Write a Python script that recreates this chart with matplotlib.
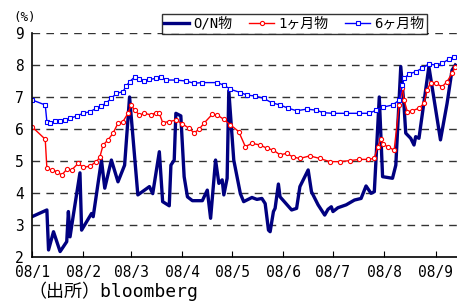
import matplotlib
import matplotlib.pyplot as plt

matplotlib.use('Agg')

# x = days since 2008-01-01
on_days = [0, 9, 10, 13, 17, 21, 22, 23, 25, 29, 30, 36, 37, 42, 44, 48, 52, 56, 59,
           64, 71, 73, 77, 79, 83, 84, 86, 87, 90, 92, 94, 97, 103, 106, 108, 111, 113,
           115, 116, 118, 119, 122, 126, 128, 133, 136, 139, 141, 143, 144, 146, 147,
           149, 150, 157, 160, 162, 167, 169, 173, 177, 179, 181, 182, 185, 190, 195,
           199, 202, 205, 207, 210, 212, 218, 220, 223, 225, 226, 229, 231, 232, 234,
           240, 247, 251, 254, 256]
on_vals = [3.26, 3.47, 2.22, 2.79, 2.17, 2.48, 3.42, 2.63, 3.31, 4.63, 2.84, 3.36, 3.26,
           5.03, 4.15, 5.03, 4.35, 4.87, 7.0, 3.94, 4.2, 3.98, 5.29, 3.73, 3.6, 4.87,
           5.03, 6.49, 6.41, 4.51, 3.88, 3.76, 3.76, 4.09, 3.21, 5.03, 4.3, 4.41, 3.94,
           4.46, 7.2, 5.03, 3.98, 3.73, 3.86, 3.8, 3.83, 3.67, 2.84, 2.79, 3.42, 3.52,
           4.28, 3.88, 3.47, 3.52, 4.2, 4.72, 4.04, 3.63, 3.31, 3.49, 3.57, 3.42, 3.54,
           3.63, 3.78, 3.83, 4.22, 3.99, 4.04, 7.0, 4.51, 4.46, 4.87, 7.95, 6.7, 5.87,
           5.71, 5.5, 5.76, 5.71, 7.95, 5.66, 6.8, 7.84, 8.0]

m1_days = [0, 8, 9, 12, 15, 18, 21, 24, 28, 31, 35, 39, 41, 43, 46, 49, 52, 55, 58, 60,
           62, 65, 68, 72, 75, 77, 79, 83, 87, 91, 95, 98, 101, 104, 109, 112, 116, 120,
           125, 129, 133, 138, 142, 146, 150, 154, 158, 162, 168, 174, 180, 186, 192,
           198, 203, 207, 209, 211, 212, 215, 219, 222, 224, 225, 227, 230, 234, 237,
           239, 241, 244, 248, 251, 254, 256]
m1_vals = [6.07, 5.68, 4.77, 4.72, 4.67, 4.56, 4.74, 4.72, 4.93, 4.8, 4.84, 4.98, 5.12,
           5.5, 5.66, 5.87, 6.18, 6.23, 6.49, 6.75, 6.59, 6.44, 6.49, 6.44, 6.51, 6.49,
           6.2, 6.23, 6.28, 6.16, 6.02, 5.88, 5.99, 6.18, 6.46, 6.44, 6.3, 6.13, 5.92,
           5.45, 5.55, 5.5, 5.4, 5.34, 5.19, 5.24, 5.12, 5.08, 5.16, 5.08, 4.98, 4.98,
           5.01, 5.05, 5.05, 5.08, 5.45, 5.68, 5.53, 5.45, 5.34, 6.75, 7.27, 6.9, 6.54,
           6.57, 6.65, 6.8, 7.22, 7.45, 7.43, 7.32, 7.48, 7.74, 7.95]

m6_days = [0, 8, 9, 11, 14, 17, 20, 23, 27, 31, 35, 39, 42, 45, 48, 51, 55, 57, 59, 62,
           65, 68, 71, 75, 78, 81, 87, 93, 98, 103, 112, 116, 120, 126, 130, 135, 140,
           145, 150, 155, 160, 166, 172, 176, 182, 190, 198, 204, 208, 212, 218, 222,
           224, 225, 228, 232, 236, 240, 244, 248, 252, 255]
m6_vals = [6.91, 6.75, 6.23, 6.2, 6.25, 6.26, 6.28, 6.33, 6.41, 6.49, 6.54, 6.65, 6.72,
           6.82, 6.96, 7.11, 7.17, 7.34, 7.48, 7.62, 7.55, 7.51, 7.55, 7.58, 7.64, 7.53,
           7.53, 7.5, 7.43, 7.45, 7.45, 7.37, 7.24, 7.14, 7.06, 7.03, 6.96, 6.82, 6.75,
           6.65, 6.57, 6.62, 6.59, 6.51, 6.49, 6.49, 6.49, 6.49, 6.59, 6.68, 6.75, 6.9,
           7.37, 7.58, 7.72, 7.79, 7.9, 8.03, 8.0, 8.05, 8.18, 8.26]

month_days = [0, 31, 60, 91, 121, 152, 182, 213, 244]
month_labels = ['08/1', '08/2', '08/3', '08/4', '08/5', '08/6', '08/7', '08/8', '08/9']

FONT = ['DejaVu Sans Mono', 'Noto Sans CJK JP']
plt.rcParams['font.family'] = FONT

fig = plt.figure(figsize=(4.57, 3.04), dpi=100)
ax = fig.add_axes([32 / 457, 1 - 257 / 304, 1 - 32 / 457, (257 - 33) / 304])

ax.plot(on_days, on_vals, color='#000080', lw=2.4, label='O/N物')
ax.plot(m1_days, m1_vals, color='#ff0000', lw=1.0, marker='o', ms=3,
        mfc='white', mec='#ff0000', mew=0.8, label='1ヶ月物')
ax.plot(m6_days, m6_vals, color='#0000ff', lw=1.0, marker='s', ms=3,
        mfc='white', mec='#0000ff', mew=0.8, label='6ヶ月物')

ax.set_xlim(0, 257)
ax.set_ylim(2, 9)
ax.set_yticks(range(2, 10))
ax.set_xticks(month_days, month_labels)
for y in range(3, 10):
    ax.axhline(y, color='#333333', lw=1.0, ls=(0, (5.5, 4.5)), zorder=0)

for s in ['top', 'right']:
    ax.spines[s].set_visible(False)
ax.spines['left'].set_linewidth(1.2)
ax.spines['bottom'].set_linewidth(1.2)
ax.tick_params(axis='x', direction='in', length=4, labelsize=10.5, pad=6)
ax.tick_params(axis='y', direction='in', length=0, labelsize=10.5, pad=6)

fig.text(13 / 457, 1 - 18 / 304, '(%)', fontsize=9, va='center', ha='left')
fig.text(28 / 457, 1 - 291 / 304, '（出所）bloomberg', fontsize=13, va='center', ha='left')

leg = fig.legend(loc='upper right', bbox_to_anchor=(434 / 457, 1 - 7 / 304), ncol=3,
                 frameon=True, fancybox=False, edgecolor='black', fontsize=10,
                 handlelength=1.8, handletextpad=0.3, columnspacing=1.2,
                 borderpad=0.2, numpoints=1)
leg.get_frame().set_linewidth(1.0)

fig.savefig('out.png', dpi=100)
